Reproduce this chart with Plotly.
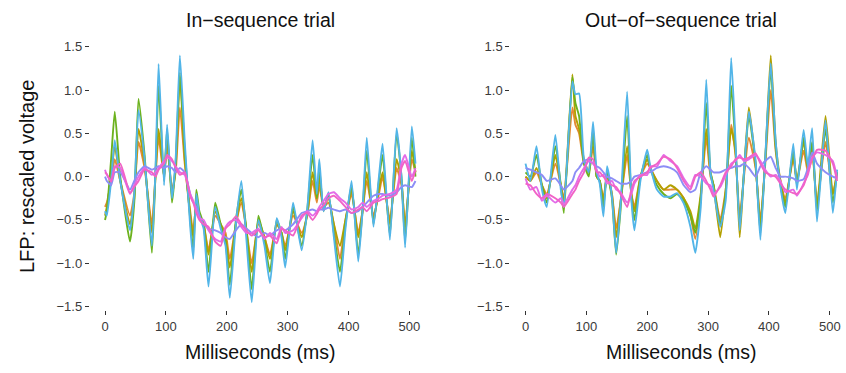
import plotly.graph_objects as go

# ---------------- data ----------------
t_in = [0,3,10,16,25,41,48,55,65,77,83,88,97,102,110,116,123,131,140,145,150,155,162,170,181,
        190,198,205,215,224,232,241,252,262,271,282,290,296,309,323,332,341,348,352,359,367,376,
        386,395,405,416,423,430,441,450,456,468,479,487,493,504,510]

in_orange = [-0.35,-0.30,-0.05,0.20,-0.05,-0.45,-0.20,0.40,0.10,-0.55,0.00,0.45,0.00,0.35,-0.15,
             0.05,0.80,0.15,-0.40,-0.65,-0.30,-0.45,-0.55,-0.85,-0.45,-0.55,-0.65,-0.95,-0.55,-0.30,
             -0.60,-1.00,-0.55,-0.70,-0.90,-0.55,-0.65,-0.80,-0.45,-0.65,-0.45,-0.05,-0.30,-0.10,-0.35,
             -0.30,-0.55,-0.95,-0.50,-0.20,-0.65,-0.40,-0.05,-0.45,-0.20,0.00,-0.50,0.10,-0.10,-0.55,
             0.20,0.05]
in_olive = [-0.45,-0.35,0.00,0.35,-0.05,-0.55,-0.25,0.55,0.15,-0.65,0.05,0.55,0.00,0.45,-0.20,
            0.10,1.15,0.20,-0.45,-0.70,-0.25,-0.45,-0.55,-0.90,-0.40,-0.55,-0.70,-1.05,-0.55,-0.25,
            -0.60,-1.10,-0.50,-0.70,-0.95,-0.55,-0.65,-0.85,-0.40,-0.70,-0.45,0.05,-0.25,0.00,-0.35,
            -0.25,-0.55,-0.80,-0.50,-0.15,-0.70,-0.40,0.05,-0.50,-0.15,0.05,-0.55,0.20,-0.05,-0.60,
            0.30,0.05]
in_green = [-0.50,-0.40,0.20,0.75,0.00,-0.75,-0.30,0.90,0.25,-0.88,0.05,1.05,-0.05,0.55,-0.30,
            0.15,1.20,0.30,-0.50,-0.85,-0.15,-0.40,-0.55,-1.10,-0.30,-0.55,-0.75,-1.25,-0.50,-0.15,
            -0.60,-1.30,-0.45,-0.75,-1.10,-0.50,-0.65,-0.95,-0.35,-0.80,-0.40,0.25,-0.25,0.10,-0.40,
            -0.20,-0.65,-1.10,-0.55,-0.10,-0.90,-0.40,0.30,-0.55,-0.05,0.25,-0.68,0.50,0.00,-0.75,
            0.45,0.00]
in_cyan = [-0.40,-0.45,-0.05,0.42,-0.05,-0.62,-0.20,0.77,0.20,-0.80,0.10,1.30,-0.10,0.60,-0.25,
           0.20,1.40,0.40,-0.58,-0.95,-0.20,-0.45,-0.60,-1.27,-0.35,-0.60,-0.80,-1.40,-0.55,-0.05,
           -0.70,-1.45,-0.50,-0.80,-1.23,-0.48,-0.70,-1.05,-0.30,-0.85,-0.40,0.42,-0.20,0.20,-0.40,
           -0.18,-0.70,-1.27,-0.60,-0.05,-0.98,-0.40,0.45,-0.58,0.00,0.38,-0.73,0.56,0.00,-0.82,
           0.58,0.15]
in_purple = [0.00,-0.05,-0.10,0.05,0.05,-0.15,-0.05,0.05,0.12,0.08,0.10,0.12,0.10,0.12,0.10,
             0.05,0.10,0.05,-0.20,-0.30,-0.35,-0.45,-0.55,-0.60,-0.62,-0.65,-0.70,-0.72,-0.62,-0.55,
             -0.60,-0.65,-0.70,-0.65,-0.68,-0.62,-0.60,-0.62,-0.55,-0.42,-0.40,-0.38,-0.40,-0.38,-0.38,
             -0.36,-0.38,-0.40,-0.38,-0.42,-0.40,-0.35,-0.30,-0.22,-0.20,-0.20,-0.22,-0.18,-0.12,-0.10,
             -0.12,-0.05]
in_pink = [0.08,0.02,-0.05,0.12,0.10,-0.20,-0.10,0.00,0.10,0.02,0.05,0.10,0.18,0.22,0.18,
           0.12,0.05,0.02,-0.20,-0.28,-0.40,-0.48,-0.50,-0.62,-0.72,-0.75,-0.58,-0.52,-0.50,-0.58,
           -0.65,-0.65,-0.60,-0.72,-0.65,-0.72,-0.58,-0.65,-0.62,-0.48,-0.40,-0.45,-0.40,-0.35,-0.28,
           -0.20,-0.18,-0.25,-0.30,-0.38,-0.35,-0.30,-0.35,-0.28,-0.25,-0.22,-0.20,-0.15,0.15,0.25,
           0.00,0.10]
in_magenta = [0.05,0.03,-0.06,0.10,0.15,-0.19,-0.12,-0.05,0.08,0.05,0.00,0.08,0.15,0.25,0.20,
              0.10,0.02,0.05,-0.23,-0.30,-0.42,-0.50,-0.55,-0.58,-0.75,-0.80,-0.60,-0.55,-0.46,-0.55,
              -0.62,-0.68,-0.62,-0.70,-0.68,-0.77,-0.60,-0.62,-0.68,-0.45,-0.42,-0.50,-0.43,-0.38,-0.33,
              -0.25,-0.22,-0.28,-0.35,-0.42,-0.38,-0.35,-0.40,-0.30,-0.28,-0.26,-0.24,-0.20,0.10,0.18,
              -0.05,0.08]

t_out = [0,8,18,27,35,49,58,63,77,82,88,96,104,111,117,122,128,134,142,149,156,167,174,179,189,
         200,205,216,227,238,249,260,271,279,288,297,304,309,320,329,338,345,352,359,367,378,386,
         394,403,411,419,427,440,446,457,464,471,479,493,505,512]

out_orange = [0.00,-0.05,0.05,-0.10,-0.20,0.15,-0.10,-0.25,0.80,0.60,0.50,0.15,0.05,0.35,0.00,
              -0.05,-0.25,0.00,-0.20,-0.60,-0.30,0.25,-0.20,-0.35,0.00,0.15,0.10,-0.05,-0.15,-0.15,
              -0.15,-0.25,-0.45,-0.72,-0.25,0.45,0.00,-0.10,-0.50,-0.15,0.60,0.25,-0.45,0.00,0.45,
              0.10,-0.50,0.15,1.00,0.30,-0.05,-0.25,0.20,-0.05,0.30,0.05,0.30,-0.30,0.40,-0.20,0.05]
out_olive = [0.00,-0.05,0.10,-0.10,-0.25,0.25,-0.10,-0.30,1.18,0.70,0.55,0.20,0.05,0.55,0.00,
             -0.05,-0.30,0.05,-0.20,-0.70,-0.30,0.35,-0.20,-0.40,0.00,0.20,0.10,-0.05,-0.15,-0.10,
             -0.15,-0.25,-0.40,-0.60,-0.20,0.55,0.05,-0.10,-0.70,-0.15,0.55,0.30,-0.70,0.05,0.80,
             0.15,-0.55,0.20,1.40,0.40,-0.05,-0.30,0.25,-0.05,0.40,0.10,0.35,-0.35,0.70,-0.20,0.05]
out_green = [0.05,0.00,0.25,-0.10,-0.30,0.35,-0.10,-0.42,1.15,0.85,0.70,0.15,0.00,0.50,0.00,
             -0.05,-0.35,0.05,-0.25,-0.90,-0.40,0.70,-0.25,-0.50,0.00,0.25,0.10,-0.10,-0.20,-0.25,
             -0.20,-0.28,-0.45,-0.65,-0.25,0.85,0.05,-0.10,-0.55,-0.20,1.05,0.35,-0.55,0.05,0.70,
             0.15,-0.65,0.20,1.25,0.35,-0.10,-0.35,0.30,-0.10,0.45,0.10,0.40,-0.40,0.55,-0.30,0.05]
out_cyan = [0.15,-0.05,0.35,-0.15,-0.35,0.48,-0.15,-0.35,1.10,0.95,0.96,0.20,0.05,0.63,0.05,
            -0.08,-0.46,0.12,-0.23,-0.88,-0.35,0.98,-0.27,-0.62,-0.04,0.31,0.12,-0.15,-0.23,-0.23,
            -0.19,-0.31,-0.58,-0.88,-0.35,1.12,0.04,-0.15,-0.58,-0.27,1.37,0.42,-0.62,0.04,0.75,
            0.19,-0.73,0.23,1.31,0.42,-0.12,-0.42,0.38,-0.15,0.54,0.12,0.56,-0.52,0.65,-0.42,0.08]
out_purple = [0.10,0.08,0.05,0.02,-0.05,-0.02,-0.10,-0.15,-0.05,0.05,0.10,0.18,0.20,0.15,0.12,
              0.10,0.05,0.00,-0.02,-0.05,-0.08,-0.08,-0.05,0.00,0.02,0.05,0.05,0.10,0.12,0.10,
              0.05,-0.10,-0.18,-0.15,0.05,0.12,0.08,0.05,0.05,0.08,0.10,0.12,0.12,0.15,0.10,
              0.00,0.12,0.18,0.23,0.10,0.00,0.00,-0.02,-0.05,-0.03,0.10,0.28,0.15,0.05,0.00,-0.02]
out_pink = [-0.02,-0.15,-0.12,-0.28,-0.22,-0.30,-0.25,-0.32,-0.15,-0.10,0.00,0.10,0.18,0.15,0.08,
            0.00,0.02,-0.08,-0.05,-0.15,-0.18,-0.30,-0.20,-0.08,0.02,0.02,0.12,0.12,0.25,0.18,
            0.12,-0.02,-0.12,0.02,0.00,-0.08,-0.10,-0.20,-0.12,0.02,0.15,0.18,0.25,0.18,0.20,
            0.25,0.18,0.08,0.00,0.02,-0.05,-0.18,-0.15,-0.22,-0.08,0.02,0.22,0.28,0.25,0.18,-0.02]
out_magenta = [-0.08,-0.10,-0.20,-0.25,-0.20,-0.25,-0.30,-0.35,-0.20,-0.15,-0.05,0.05,0.22,0.20,0.05,
               0.05,0.00,-0.05,-0.10,-0.12,-0.20,-0.35,-0.15,-0.05,0.00,0.05,0.10,0.15,0.23,0.20,
               0.10,-0.05,-0.15,0.00,0.05,-0.05,-0.15,-0.23,-0.10,0.05,0.12,0.20,0.22,0.20,0.22,
               0.27,0.15,0.05,0.02,0.00,-0.08,-0.15,-0.19,-0.20,-0.10,0.05,0.20,0.31,0.30,0.15,-0.05]

x_ticks = [0, 100, 200, 300, 400, 500]
y_ticks = [-1.5, -1.0, -0.5, 0.0, 0.5, 1.0, 1.5]
y_tick_text = ["\u22121.5", "\u22121.0", "\u22120.5", "0.0", "0.5", "1.0", "1.5"]

colors = {
    "orange": "#E48A35",
    "olive": "#B3A000",
    "green": "#6CB21E",
    "cyan": "#52B5E8",
    "purple": "#8C8DF6",
    "pink": "#E36BE8",
    "magenta": "#F163C6",
}

fig = go.Figure()
panels = [
    ("x", "y", t_in, [("orange", in_orange), ("olive", in_olive), ("green", in_green), ("cyan", in_cyan),
                      ("purple", in_purple), ("pink", in_pink), ("magenta", in_magenta)]),
    ("x2", "y2", t_out, [("orange", out_orange), ("olive", out_olive), ("green", out_green), ("cyan", out_cyan),
                         ("purple", out_purple), ("pink", out_pink), ("magenta", out_magenta)]),
]
for xa, ya, tt, series in panels:
    for name, vals in series:
        fig.add_trace(go.Scatter(x=tt, y=vals, xaxis=xa, yaxis=ya, mode="lines",
                                 line=dict(color=colors[name], width=1.9, shape="spline", smoothing=0.5),
                                 showlegend=False, hoverinfo="skip"))

W, H = 846, 373
font = "Liberation Sans, Arial, Helvetica, sans-serif"
axis_common = dict(showgrid=False, zeroline=False, showline=False, ticks="outside",
                   ticklen=4, tickwidth=1, tickcolor="#333333", automargin=False,
                   ticklabeloverflow="allow",
                   tickfont=dict(family=font, size=13, color="#3a3a3a"))


def px(x):
    return x / W


def py(y):
    return 1 - y / H


ydom = [py(310), py(42.4)]

fig.update_layout(
    width=W, height=H,
    margin=dict(l=0, r=0, t=0, b=0, autoexpand=False),
    paper_bgcolor="white", plot_bgcolor="white",
    font=dict(family=font, color="#222222"),
    xaxis=dict(domain=[px(89.8), px(431.9)], range=[-25, 537], tickvals=x_ticks,
               ticktext=[str(v) for v in x_ticks], **axis_common),
    xaxis2=dict(domain=[px(510.3), px(845.0)], range=[-25, 525], tickvals=x_ticks,
                ticktext=[str(v) for v in x_ticks], **axis_common),
    yaxis=dict(domain=ydom, range=[-1.54, 1.55], tickvals=y_ticks, ticktext=y_tick_text,
               anchor="x", **axis_common),
    yaxis2=dict(domain=ydom, range=[-1.54, 1.55], tickvals=y_ticks, ticktext=y_tick_text,
                anchor="x2", **axis_common),
    annotations=[
        dict(text="In\u2212sequence trial", x=px(260.9), y=py(20), xref="paper", yref="paper",
             showarrow=False, xanchor="center", yanchor="middle",
             font=dict(family=font, size=19.5, color="#111111")),
        dict(text="Out\u2212of\u2212sequence trial", x=px(681), y=py(20), xref="paper", yref="paper",
             showarrow=False, xanchor="center", yanchor="middle",
             font=dict(family=font, size=19.5, color="#111111")),
        dict(text="Milliseconds (ms)", x=px(260.9), y=py(352), xref="paper", yref="paper",
             showarrow=False, xanchor="center", yanchor="middle",
             font=dict(family=font, size=19.5, color="#111111")),
        dict(text="Milliseconds (ms)", x=px(681), y=py(352), xref="paper", yref="paper",
             showarrow=False, xanchor="center", yanchor="middle",
             font=dict(family=font, size=19.5, color="#111111")),
        dict(text="LFP: rescaled voltage", x=px(27), y=py(177), xref="paper", yref="paper",
             showarrow=False, xanchor="center", yanchor="middle", textangle=-90,
             font=dict(family=font, size=20, color="#111111")),
    ],
)

# remove the default page margin so the 846x373 figure fills the window exactly
fig.write_html("out.html",
               config={"displayModeBar": False, "staticPlot": True},
               post_script="document.body.style.margin='0';document.body.style.overflow='hidden';")
